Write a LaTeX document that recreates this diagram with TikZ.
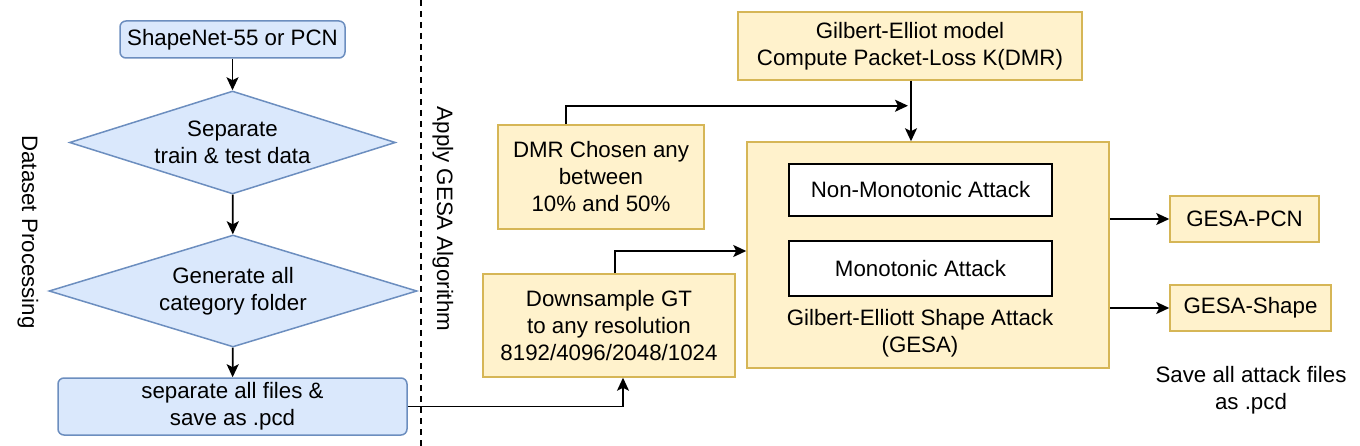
\documentclass[tikz,border=0pt]{standalone}
\usepackage{fontspec}
\setmainfont{Liberation Sans}
\usetikzlibrary{shapes.geometric, arrows.meta}
\usepackage{xcolor}
\definecolor{bfill}{HTML}{DAE8FC}
\definecolor{bline}{HTML}{6C8EBF}
\definecolor{yfill}{HTML}{FFF2CC}
\definecolor{yline}{HTML}{D6B656}

\tikzset{
	txt/.style={font=\fontsize{22.3}{27}\selectfont, align=center, inner sep=0pt},
	bluebox/.style={txt, rectangle, rounded corners=6pt, draw=bline, fill=bfill, line width=1.5pt},
	bluedia/.style={diamond, inner sep=0pt, draw=bline, fill=bfill, line width=1.5pt},
	yelbox/.style={txt, rectangle, draw=yline, fill=yfill, line width=1.5pt},
	attbox/.style={txt, rectangle, draw=black, fill=white, line width=2.5pt},
	flow/.style={line width=1.8pt, -{Stealth[length=13pt, width=12pt, inset=3pt]}},
}

\begin{document}
\begin{tikzpicture}[x=1pt, y=-1pt]
	\useasboundingbox (0, 0) rectangle (1360, 446);

	% dataset side
	\node[bluebox, minimum width=225pt, minimum height=37pt] (src) at (232.5, 39.5) {ShapeNet-55 or PCN};
	\node[bluedia, minimum width=326pt, minimum height=103pt] (split) at (232.5, 142.5) {};
	\node[txt] (splittxt) at (split.center) {Separate\\train \& test data};
	\node[bluedia, minimum width=368pt, minimum height=112pt] (gen) at (233, 291) {};
	\node[txt] (gentxt) at (gen.center) {Generate all\\category folder};
	\node[bluebox, minimum width=349pt, minimum height=57pt] (save) at (232.5, 406.5) {separate all files \&\\save as .pcd};

	\node[txt, rotate=-90] (dslabel) at (28, 232) {Dataset Processing};
	\draw[line width=1.5pt, dash pattern=on 6pt off 5pt] (421, 0) -- (421, 446);
	\node[txt, rotate=-90] (gesalabel) at (443, 219) {Apply GESA Algorithm};

	% attack side
	\node[yelbox, minimum width=344pt, minimum height=68pt] (model) at (910, 46) {Gilbert-Elliot model\\Compute Packet-Loss K(DMR)};
	\node[yelbox, minimum width=206pt, minimum height=104pt] (dmr) at (601, 177) {DMR Chosen any\\between\\10\% and 50\%};
	\node[yelbox, minimum width=252pt, minimum height=103pt] (down) at (609, 325.5) {Downsample GT\\to any resolution\\8192/4096/2048/1024};
	\node[yelbox, minimum width=362pt, minimum height=226pt] (gesa) at (928, 255) {};
	\node[attbox, minimum width=263pt, minimum height=52pt] (nonmono) at (920.5, 190) {Non-Monotonic Attack};
	\node[attbox, minimum width=263pt, minimum height=55pt] (mono) at (920.5, 268.5) {Monotonic Attack};
	\node[txt] (gesaname) at (920, 333) {Gilbert-Elliott Shape Attack\\(GESA)};
	\node[yelbox, minimum width=149pt, minimum height=46pt] (pcn) at (1244.5, 219) {GESA-PCN};
	\node[yelbox, minimum width=161pt, minimum height=46pt] (shape) at (1250.5, 308) {GESA-Shape};
	\node[txt] (note) at (1251, 390) {Save all attack files\\as .pcd};

	% connectors
	\draw[flow] (src) -- (split);
	\draw[flow] (split) -- (gen);
	\draw[flow] (gen) -- (save);
	\draw[flow] (save.east) -| ([xshift=14pt]down.south);
	\coordinate (join) at ([xshift=1pt, yshift=-25pt]model.south);
	\draw[flow] ([xshift=1pt]model.south) -- ([xshift=1pt]model.south |- gesa.north);
	\draw[flow] ([xshift=-35pt]dmr.north) |- ([xshift=-3pt]join);
	\draw[flow] ([xshift=6pt]down.north) |- ([yshift=4pt]gesa.west);
	\draw[flow] (gesa.east |- pcn.west) -- (pcn.west);
	\draw[flow] (gesa.east |- shape.west) -- (shape.west);
\end{tikzpicture}
\end{document}
